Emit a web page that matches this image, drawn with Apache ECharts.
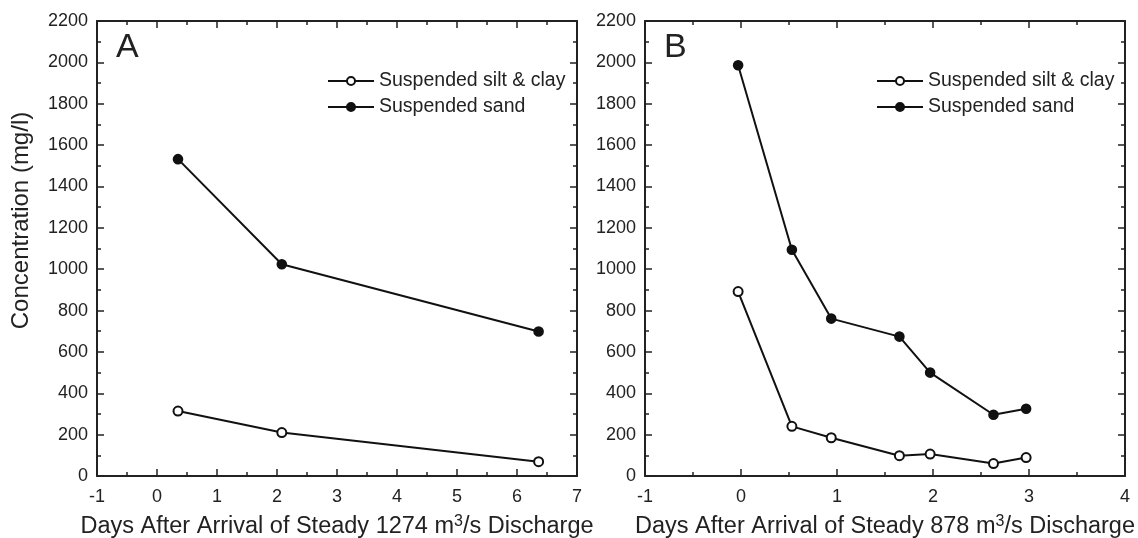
<!DOCTYPE html>
<html>
<head>
<meta charset="utf-8">
<script src="https://cdn.jsdelivr.net/npm/echarts@6/dist/echarts.min.js"></script>
<style>
  html, body { margin: 0; padding: 0; background: #fff; }
  #chart { width: 1138px; height: 538px; }
</style>
</head>
<body>
<div id="chart"></div>
<script>
// panel A: 1274 m3/s discharge
const daysA = [0.35, 2.08, 6.36];
const siltA = [314, 210, 69];
const sandA = [1532, 1024, 699];

// panel B: 878 m3/s discharge
const daysB = [-0.03, 0.53, 0.94, 1.65, 1.97, 2.63, 2.97];
const siltB = [892, 240, 185, 98, 106, 60, 89];
const sandB = [1986, 1094, 761, 674, 500, 296, 325];

const seriesNames = ['Suspended silt & clay', 'Suspended sand'];
const xRangeA = [-1, 7];
const xRangeB = [-1, 4];
const yRange = [0, 2200];

const FONT = "'Liberation Sans', Arial, sans-serif";
const INK = '#222';

function pairs(xs, ys) {
  return xs.map((x, i) => [x, ys[i]]);
}

// bottom/left axes carry labels, top/right are just mirrored ticks
function xAxisFor(grid, range, name, mirror) {
  return {
    type: 'value', gridIndex: grid, min: range[0], max: range[1], interval: 1,
    position: mirror ? 'top' : 'bottom',
    axisLine: { show: true, onZero: false, lineStyle: { color: INK, width: 2 } },
    axisTick: { show: true, inside: true, length: 7, lineStyle: { color: INK, width: 1.5 } },
    minorTick: { show: true, splitNumber: 2, length: 4, lineStyle: { color: INK, width: 1.5 } },
    axisLabel: { show: !mirror, margin: 12, fontSize: 18, color: INK, fontFamily: FONT,
      formatter: v => String(v) },
    splitLine: { show: false },
    name: mirror ? '' : name,
    nameLocation: 'middle', nameGap: 38,
    nameTextStyle: {
      fontSize: 23.5, color: INK, fontFamily: FONT,
      rich: { sup: { fontSize: 16, color: INK, fontFamily: FONT, verticalAlign: 'top', padding: [0, 0, 9, 0] } }
    }
  };
}

function yAxisFor(grid, name, mirror) {
  return {
    type: 'value', gridIndex: grid, min: yRange[0], max: yRange[1], interval: 200,
    position: mirror ? 'right' : 'left',
    axisLine: { show: true, onZero: false, lineStyle: { color: INK, width: 2 } },
    axisTick: { show: true, inside: true, length: 7, lineStyle: { color: INK, width: 1.5 } },
    minorTick: { show: true, splitNumber: 2, length: 4, lineStyle: { color: INK, width: 1.5 } },
    axisLabel: { show: !mirror, margin: 9, fontSize: 18, color: INK, fontFamily: FONT,
      formatter: v => String(v) },
    splitLine: { show: false },
    name: mirror ? '' : name,
    nameLocation: 'middle', nameGap: 64,
    nameTextStyle: { fontSize: 24, color: INK, fontFamily: FONT, padding: [0, 0, 0, 56] }
  };
}

function lineSeries(name, xIdx, yIdx, data, open) {
  return {
    name: name, type: 'line', xAxisIndex: xIdx, yAxisIndex: yIdx,
    data: data,
    symbol: open ? 'emptyCircle' : 'circle',
    symbolSize: 9,
    lineStyle: { color: '#111', width: 2 },
    itemStyle: { color: '#111', borderColor: '#111', borderWidth: 1.6 },
    animation: false
  };
}

function legendFor(left) {
  return {
    data: seriesNames, orient: 'vertical', left: left, top: 66,
    itemWidth: 46, itemHeight: 10, itemGap: 6,
    textStyle: { fontSize: 19.5, color: INK, fontFamily: FONT },
    selectedMode: false
  };
}

const chart = echarts.init(document.getElementById('chart'), null, { renderer: 'canvas' });

chart.setOption({
  backgroundColor: '#fff',
  animation: false,
  grid: [
    { left: 97, top: 21, width: 480, height: 455, outerBoundsMode: 'none' },
    { left: 645, top: 21, width: 480, height: 455, outerBoundsMode: 'none' }
  ],
  xAxis: [
    xAxisFor(0, xRangeA, 'Days After Arrival of Steady 1274 m{sup|3}/s Discharge', false),
    xAxisFor(0, xRangeA, '', true),
    xAxisFor(1, xRangeB, 'Days After Arrival of Steady 878 m{sup|3}/s Discharge', false),
    xAxisFor(1, xRangeB, '', true)
  ],
  yAxis: [
    yAxisFor(0, 'Concentration (mg/l)', false),
    yAxisFor(0, '', true),
    yAxisFor(1, '', false),
    yAxisFor(1, '', true)
  ],
  legend: [legendFor(322), legendFor(871)],
  graphic: [
    { type: 'text', left: 116, top: 31, style: { text: 'A', fontSize: 34, fill: INK, fontFamily: FONT } },
    { type: 'text', left: 664, top: 31, style: { text: 'B', fontSize: 34, fill: INK, fontFamily: FONT } }
  ],
  series: [
    lineSeries(seriesNames[0], 0, 0, pairs(daysA, siltA), true),
    lineSeries(seriesNames[1], 0, 0, pairs(daysA, sandA), false),
    lineSeries(seriesNames[0], 2, 2, pairs(daysB, siltB), true),
    lineSeries(seriesNames[1], 2, 2, pairs(daysB, sandB), false)
  ]
});
</script>
</body>
</html>
